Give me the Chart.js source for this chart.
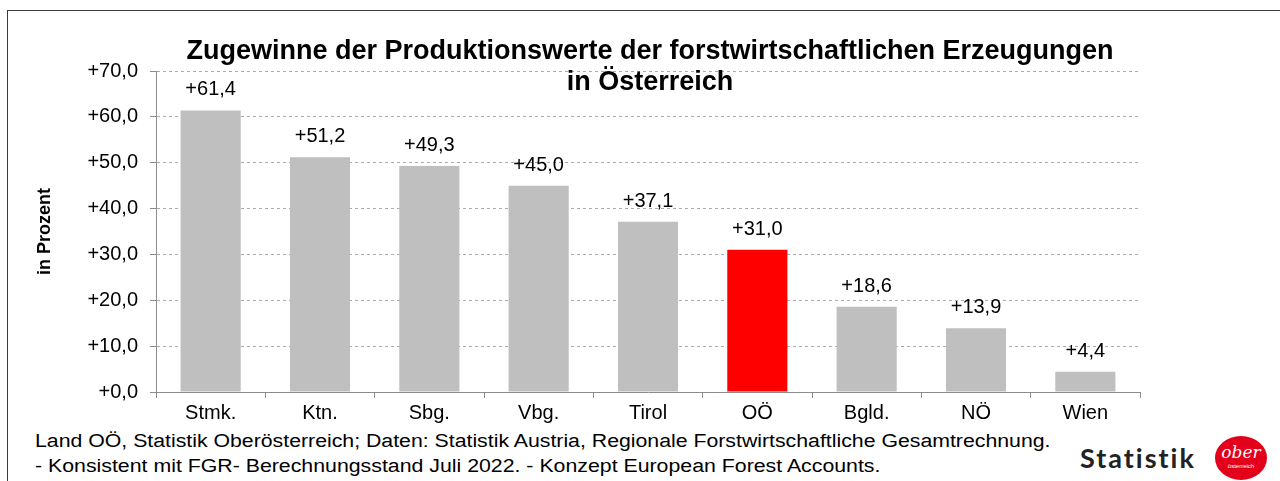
<!DOCTYPE html>
<html>
<head>
<meta charset="utf-8">
<script src="https://cdn.jsdelivr.net/npm/chart.js@4.4.1/dist/chart.umd.min.js"></script>
<style>
  body { margin: 0; background: #fff; font-family: "Liberation Sans", Arial, sans-serif; }
  #wrap { position: relative; width: 1280px; height: 481px; overflow: hidden; }
  #frame { position: absolute; left: 7px; top: 10px; width: 1300px; height: 500px;
           border-left: 1px solid #3c3c3c; border-top: 1px solid #3c3c3c; }
  #chartBox { position: absolute; left: 0; top: 0; width: 1280px; height: 430px; }
  .foot { position: absolute; left: 35px; font-size: 18px; color: #000; white-space: nowrap;
          transform-origin: 0 0; line-height: 20px; }
  #logoText { position: absolute; left: 1080px; top: 441px; font-family: Lato, "Noto Sans", sans-serif;
              font-weight: 700; font-size: 27px; color: #222; letter-spacing: 2px; }
  #badge { position: absolute; left: 1215px; top: 436px; width: 52px; height: 44px; border-radius: 50%;
           background: #e2001a; color: #fff; text-align: center; }
  #badge .ober { position: absolute; left: 0; right: 0; top: 7px; font-family: "DejaVu Serif", serif;
                 font-style: italic; font-size: 17px; line-height: 18px; }
  #badge .oe { position: absolute; left: 0; right: 0; top: 27px; font-size: 6px; line-height: 6px; }
</style>
</head>
<body>
<div id="wrap">
  <div id="frame"></div>
  <div id="chartBox"><canvas id="chart"></canvas></div>
  <div class="foot" id="foot1" style="top:431px">Land OÖ, Statistik Oberösterreich; Daten: Statistik Austria, Regionale Forstwirtschaftliche Gesamtrechnung.</div>
  <div class="foot" id="foot2" style="top:456px">- Konsistent mit FGR- Berechnungsstand Juli 2022. - Konzept European Forest Accounts.</div>
  <div id="logoText">Statistik</div>
  <div id="badge"><div class="ober">ober</div><div class="oe">österreich</div></div>
</div>
<script>
const categories = ['Stmk.', 'Ktn.', 'Sbg.', 'Vbg.', 'Tirol', 'OÖ', 'Bgld.', 'NÖ', 'Wien'];
const gains = [61.4, 51.2, 49.3, 45.0, 37.1, 31.0, 18.6, 13.9, 4.4];
const highlight = 'OÖ';
const yMin = 0, yMax = 70, yStep = 10;
const titleLines = ['Zugewinne der Produktionswerte der forstwirtschaftlichen Erzeugungen', 'in Österreich'];
const yTitle = 'in Prozent';

const FONT = '"Liberation Sans", Arial, sans-serif';
const fmt = v => '+' + v.toFixed(1).replace('.', ',');
const barColors = categories.map(c => c === highlight ? '#ff0000' : '#bfbfbf');

// value labels above bars
const valueLabels = {
  id: 'valueLabels',
  afterDatasetsDraw(chart) {
    const ctx = chart.ctx;
    const meta = chart.getDatasetMeta(0);
    ctx.save();
    ctx.font = '20px ' + FONT;
    ctx.fillStyle = '#000';
    ctx.textAlign = 'center';
    ctx.textBaseline = 'alphabetic';
    meta.data.forEach((bar, i) => ctx.fillText(fmt(gains[i]), bar.x, bar.y - 15));
    ctx.restore();
  }
};

// two-line title drawn over the top of the plot area
const twoLineTitle = {
  id: 'twoLineTitle',
  afterDraw(chart) {
    const ctx = chart.ctx;
    const cx = (chart.chartArea.left + chart.chartArea.right) / 2 + 2;
    ctx.save();
    ctx.font = 'bold 27px ' + FONT;
    ctx.fillStyle = '#000';
    ctx.textAlign = 'center';
    ctx.textBaseline = 'alphabetic';
    ctx.fillText(titleLines[0], cx, 59);
    ctx.fillText(titleLines[1], cx, 90);
    ctx.restore();
  }
};

new Chart(document.getElementById('chart'), {
  type: 'bar',
  data: {
    labels: categories,
    datasets: [{ data: gains, backgroundColor: barColors, barPercentage: 0.55, categoryPercentage: 1 }]
  },
  options: {
    responsive: true,
    maintainAspectRatio: false,
    animation: false,
    layout: { padding: { top: 71, right: 140, left: 0, bottom: 0 } },
    plugins: { legend: { display: false }, tooltip: { enabled: false }, title: { display: false } },
    scales: {
      x: {
        afterFit: s => { s.height = 38; },
        grid: { drawOnChartArea: false, drawTicks: true, tickLength: 6, color: '#8c8c8c', offset: true },
        border: { color: '#8c8c8c', width: 1 },
        ticks: { color: '#000', padding: 3, font: { family: FONT, size: 20 } }
      },
      y: {
        min: yMin, max: yMax,
        afterFit: s => { s.width = 156; },
        grid: { color: '#ababab', tickColor: '#8c8c8c', tickLength: 6, tickBorderDash: [] },
        border: { color: '#8c8c8c', width: 1, dash: [3, 3] },
        ticks: { stepSize: yStep, color: '#000', padding: 12, callback: v => fmt(v),
                 font: { family: FONT, size: 20 } },
        title: { display: true, text: yTitle, color: '#000', padding: { top: 34, bottom: 0 },
                 font: { family: FONT, size: 18, weight: 'bold' } }
      }
    }
  },
  plugins: [valueLabels, twoLineTitle]
});

// stretch footer lines to the widths seen in the reference
[['foot1', 1015], ['foot2', 845]].forEach(([id, w]) => {
  const el = document.getElementById(id);
  el.style.transform = 'scaleX(' + (w / el.offsetWidth) + ')';
});
</script>
</body>
</html>
